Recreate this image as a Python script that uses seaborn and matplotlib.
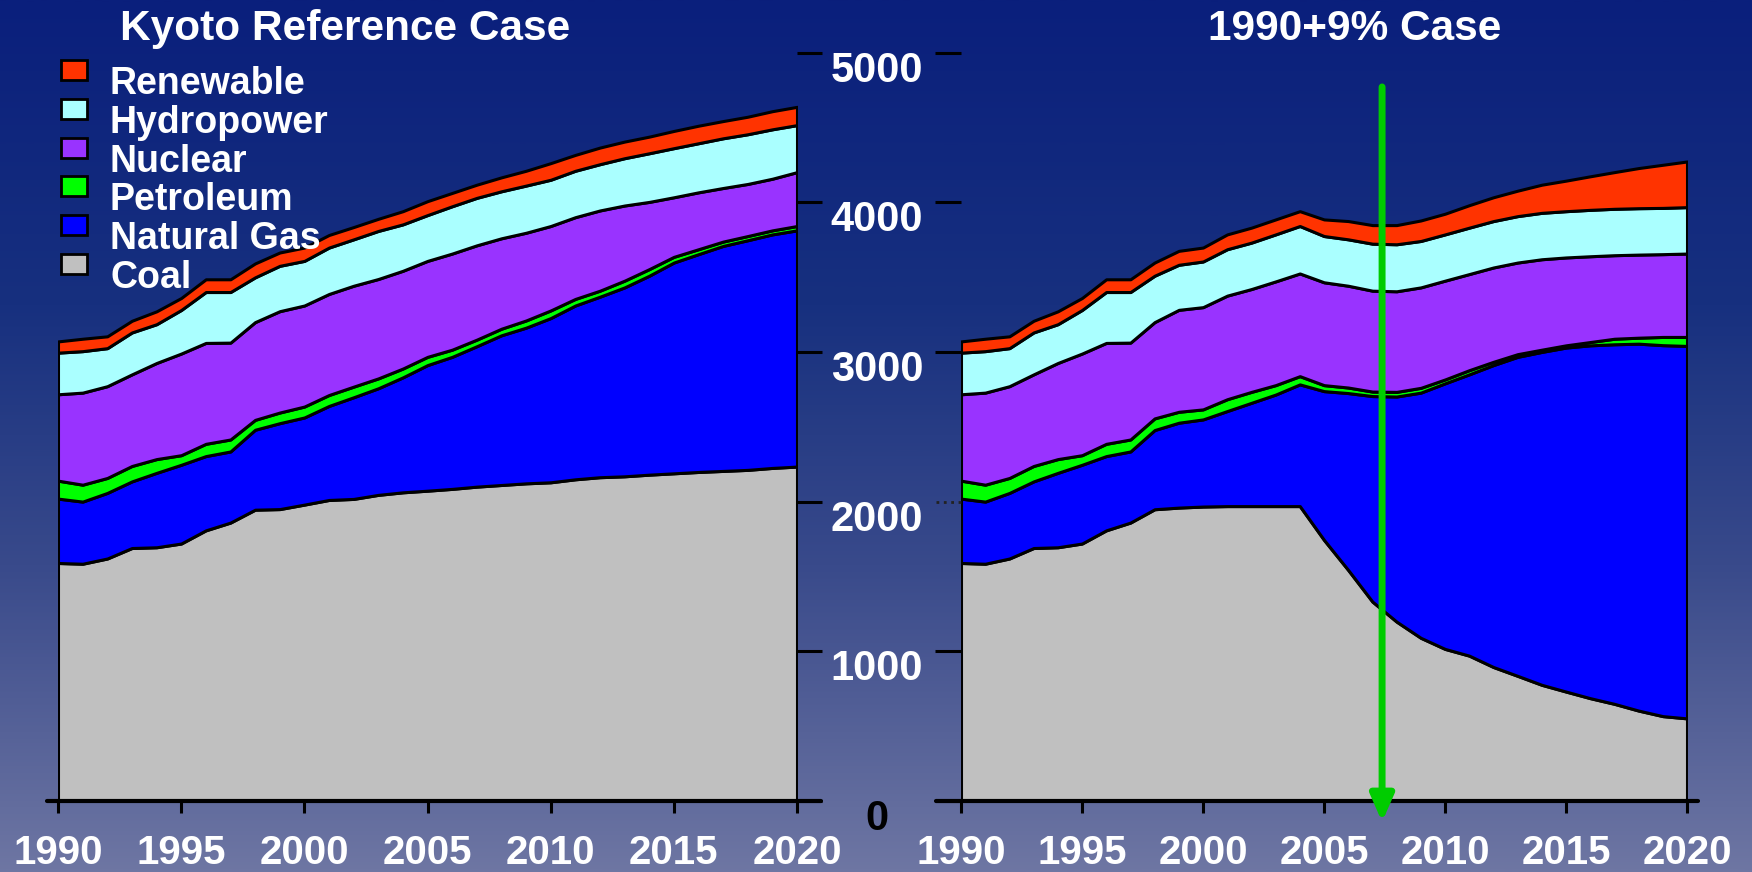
import numpy as np
import matplotlib
matplotlib.use("Agg")
import matplotlib.pyplot as plt
import matplotlib.transforms as mtransforms
from matplotlib.colors import LinearSegmentedColormap
from matplotlib.patches import Rectangle
import seaborn as sns

sns.set_style("white")
plt.rcParams["font.family"] = ["Liberation Sans", "DejaVu Sans"]
plt.rcParams["font.weight"] = "bold"

# ---------------------------------------------------------------- data
years = list(range(1990, 2021))
fuels = ["Coal", "Natural Gas", "Petroleum", "Nuclear", "Hydropower", "Renewable"]
fuel_colors = ["#C0C0C0", "#0000FF", "#00FF00", "#9933FF", "#AAFFFF", "#FF3300"]

# Kyoto reference case (generation by fuel)
coal_ref = [1590, 1585, 1620, 1690, 1695, 1720, 1808, 1860, 1946, 1950, 1980, 2011, 2018, 2045, 2062, 2073,
            2085, 2100, 2111, 2122, 2129, 2149, 2163, 2169, 2180, 2189, 2198, 2205, 2212, 2225, 2234]
gas_ref = [430, 415, 438, 445, 497, 526, 496, 475, 534, 574, 582, 628, 679, 712, 768, 839,
           882, 938, 1000, 1040, 1097, 1161, 1206, 1262, 1329, 1408, 1455, 1503, 1534, 1560, 1578]
pet_ref = [120, 113, 100, 103, 92, 64, 82, 80, 66, 71, 73, 73, 71, 66, 59, 55,
           48, 44, 44, 48, 51, 44, 40, 45, 44, 38, 33, 29, 28, 27, 29]
nuc_ref = [577, 615, 613, 612, 642, 679, 674, 647, 653, 677, 675, 675, 674, 664, 653, 641,
           642, 630, 604, 586, 564, 546, 536, 502, 449, 398, 380, 358, 348, 345, 360]
hyd_ref = [278, 277, 254, 280, 259, 291, 340, 338, 299, 303, 298, 310, 310, 321, 310, 306,
           316, 317, 314, 315, 309, 310, 309, 316, 325, 328, 328, 332, 332, 330, 314]
ren_ref = [75, 83, 79, 78, 86, 80, 85, 85, 93, 89, 89, 84, 82, 81, 88, 93,
           89, 88, 93, 99, 111, 106, 111, 111, 111, 115, 117, 115, 117, 121, 122]

# 1990+9% case
coal_kp = [1590, 1585, 1620, 1690, 1695, 1720, 1808, 1860, 1949, 1960, 1967, 1970, 1970, 1970, 1970, 1744,
           1543, 1332, 1198, 1090, 1016, 971, 895, 836, 776, 731, 687, 649, 604, 567, 552]
gas_kp = [430, 415, 438, 445, 497, 526, 496, 475, 529, 567, 582, 635, 690, 745, 813, 994,
          1182, 1373, 1504, 1638, 1774, 1879, 2017, 2131, 2224, 2298, 2357, 2402, 2451, 2478, 2488]
pet_kp = [120, 113, 100, 103, 92, 64, 82, 80, 78, 73, 67, 79, 73, 63, 55, 40,
          37, 30, 31, 32, 26, 28, 22, 18, 15, 15, 22, 37, 40, 55, 60]
nuc_kp = [577, 615, 613, 612, 642, 679, 674, 647, 643, 681, 683, 692, 687, 693, 686, 687,
          680, 674, 672, 671, 660, 642, 630, 612, 604, 587, 573, 558, 555, 553, 557]
hyd_kp = [278, 277, 254, 280, 259, 291, 340, 338, 310, 301, 305, 310, 310, 314, 317, 309,
          310, 314, 314, 310, 309, 310, 310, 310, 310, 309, 310, 310, 310, 309, 310]
ren_kp = [75, 83, 79, 78, 86, 80, 85, 85, 88, 93, 93, 99, 100, 100, 99, 111,
          122, 124, 128, 137, 138, 150, 159, 170, 188, 204, 224, 245, 268, 288, 305]

panel_titles = ["Kyoto Reference Case", "1990+9% Case"]
x_ticks = [1990, 1995, 2000, 2005, 2010, 2015, 2020]
y_ticks = [0, 1000, 2000, 3000, 4000, 5000]
marker_year = 2007.4

# ---------------------------------------------------------------- figure
W, H = 1752, 872
fig = plt.figure(figsize=(W / 100, H / 100), dpi=100)

# vertical background gradient
bg = fig.add_axes([0, 0, 1, 1], zorder=-10)
bg_cmap = LinearSegmentedColormap.from_list(
    "bg", [(0.0, "#0a1f7c"), (0.35, "#17307f"), (0.65, "#394a8b"), (1.0, "#6e76a3")])
bg.imshow(np.linspace(0, 1, 512).reshape(-1, 1), aspect="auto", cmap=bg_cmap,
          extent=[0, 1, 0, 1], origin="upper")
bg.set_axis_off()


def px_axes(x0, x1, ybot, ytop):
    return fig.add_axes([x0 / W, (H - ybot) / H, (x1 - x0) / W, (ybot - ytop) / H])


ax_l = px_axes(58, 797, 801, 52.5)
ax_r = px_axes(961, 1687, 801, 52.5)

series = [
    (ax_l, [coal_ref, gas_ref, pet_ref, nuc_ref, hyd_ref, ren_ref]),
    (ax_r, [coal_kp, gas_kp, pet_kp, nuc_kp, hyd_kp, ren_kp]),
]

for ax, vals in series:
    ax.set_facecolor("none")
    ax.stackplot(years, *vals, colors=fuel_colors, edgecolor="black", linewidth=2.2, labels=fuels)
    ax.set_xlim(1990, 2020)
    ax.set_ylim(0, 5000)
    sns.despine(ax=ax, left=True, bottom=True)
    ax.set_xticks(x_ticks)
    ax.set_xticklabels([str(t) for t in x_ticks])
    ax.tick_params(axis="x", bottom=True, direction="out", length=8.6, width=2.2, color="black",
                   labelcolor="white", labelsize=29, pad=15)
    ax.grid(False)

# bottom axis lines extend slightly past the plotting area
ax_l.axhline(0, xmin=-0.0149, xmax=1.0325, color="black", lw=3, clip_on=False, zorder=5)
ax_r.axhline(0, xmin=-0.0344, xmax=1.0152, color="black", lw=3, clip_on=False, zorder=5)

# shared value scale between the panels
ax_l.set_yticks(y_ticks)
ax_l.yaxis.tick_right()
ax_l.tick_params(axis="y", right=True, left=False, direction="out", length=18, width=2.2,
                 color="black", labelright=False, labelleft=False)
ax_r.set_yticks([t for t in y_ticks if t != 2000])
ax_r.tick_params(axis="y", left=True, direction="out", length=18.5, width=2.2,
                 color="black", labelleft=False)
ax_r.plot([-0.0344, 0], [2000, 2000], transform=ax_r.get_yaxis_transform(), ls=":",
          color="#222222", lw=2, clip_on=False)

lab_tr = ax_l.get_yaxis_transform() + mtransforms.ScaledTranslation(0, -29 / 100, fig.dpi_scale_trans)
for v in y_ticks:
    ax_l.text(1.108, v, str(v), transform=lab_tr, ha="center", va="baseline",
              fontsize=30, fontweight="bold", color="white" if v else "black", clip_on=False)

# panel titles
fig.text(345 / W, 1 - 40 / H, panel_titles[0], ha="center", va="baseline",
         fontsize=30.5, fontweight="bold", color="white")
fig.text(1355 / W, 1 - 40 / H, panel_titles[1], ha="center", va="baseline",
         fontsize=30.5, fontweight="bold", color="white")

# legend, top entry first
for i, (name, col) in enumerate(zip(fuels[::-1], fuel_colors[::-1])):
    cy = 70 + 38.8 * i
    fig.add_artist(Rectangle((61 / W, 1 - (cy + 10) / H), 26 / W, 20 / H, transform=fig.transFigure,
                             facecolor=col, edgecolor="black", linewidth=2))
    fig.text(110 / W, 1 - (cy + 24) / H, name, ha="left", va="baseline",
             fontsize=27, fontweight="bold", color="white")

# marker arrow in the 1990+9% panel
ax_r.annotate("", xy=(marker_year, -140), xytext=(marker_year, 4770),
              arrowprops=dict(arrowstyle="-|>,head_length=0.8,head_width=0.35", color="#00CC00",
                              lw=5, mutation_scale=20, shrinkA=0, shrinkB=0),
              annotation_clip=False, zorder=7)

fig.savefig("out.png", dpi=100)
